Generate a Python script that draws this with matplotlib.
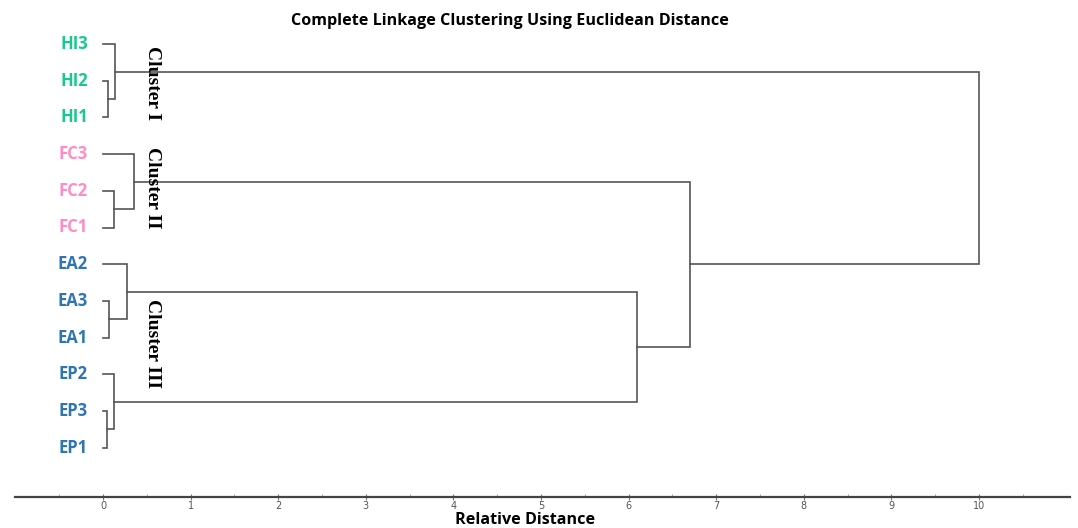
import matplotlib
matplotlib.use("Agg")
import matplotlib.pyplot as plt

# ---- data ----
leaf_labels = ["HI3", "HI2", "HI1", "FC3", "FC2", "FC1",
               "EA2", "EA3", "EA1", "EP2", "EP3", "EP1"]
leaf_groups = ["HI", "HI", "HI", "FC", "FC", "FC",
               "EA", "EA", "EA", "EP", "EP", "EP"]
# merges: (left node, right node, height); leaves are 0..11, new nodes 12..
merge_left = [1, 4, 7, 10, 0, 3, 6, 9, 18, 17, 16]
merge_right = [2, 5, 8, 11, 12, 13, 14, 15, 19, 20, 21]
merge_height = [0.06, 0.12, 0.07, 0.05, 0.14, 0.35, 0.27, 0.13, 6.10, 6.70, 10.0]
cluster_names = ["Cluster I", "Cluster II", "Cluster III"]
x_ticks = list(range(0, 11))

group_colors = {"HI": "#19C88E", "FC": "#FF8CC3", "EA": "#2E75B6", "EP": "#2E75B6"}

fig = plt.figure(figsize=(10.78, 5.28), dpi=100)
W, H = 1078, 528
x0_px, unit_px = 103.0, 87.6
leaf0_px, leaf_step_px = 44.0, 36.7
axis_px = 497.0
left_px, right_px, top_px = 15.0, 1070.0, 30.0
xmin = (left_px - x0_px) / unit_px
xmax = (right_px - x0_px) / unit_px
ymax = (axis_px - leaf0_px) / leaf_step_px
ymin = (top_px - leaf0_px) / leaf_step_px
ax = fig.add_axes([left_px / W, 1 - axis_px / H, (right_px - left_px) / W,
                   (axis_px - top_px) / H])
ax.set_xlim(xmin, xmax)
ax.set_ylim(ymax, ymin)

# dendrogram
pos = {i: (0.0, float(i)) for i in range(len(leaf_labels))}
lc = "#555555"
for k, (a, b, h) in enumerate(zip(merge_left, merge_right, merge_height)):
    xa, ya = pos[a]
    xb, yb = pos[b]
    ax.plot([xa, h, h, xb], [ya, ya, yb, yb], color=lc, lw=1.2,
            solid_joinstyle="miter")
    pos[len(leaf_labels) + k] = (h, (ya + yb) / 2)

# leaf labels
for i, (lab, g) in enumerate(zip(leaf_labels, leaf_groups)):
    ax.text(xmin + (88 - left_px) / unit_px, i, lab, ha="right", va="center",
            color=group_colors[g], fontsize=12, fontweight="bold",
            family="Open Sans")

# cluster labels
cl_pos = [(45 + 120) / 2, (148 + 228) / 2, (298 + 388) / 2]
for name, py in zip(cluster_names, cl_pos):
    ax.text((152 - x0_px) / unit_px, (py - leaf0_px) / leaf_step_px, name,
            rotation=270, ha="center", va="center", fontsize=14,
            fontweight="bold", family="Liberation Serif", color="black")

# axes styling
for s in ["top", "right", "left"]:
    ax.spines[s].set_visible(False)
ax.spines["bottom"].set_color("#444444")
ax.spines["bottom"].set_linewidth(1.6)
ax.set_yticks([])
ax.set_xticks(x_ticks)
ax.set_xticks([t - 0.5 for t in x_ticks] + [10.5], minor=True)
ax.tick_params(axis="x", which="major", direction="inout", length=4, width=0.8,
               color="#777777", labelsize=7, labelcolor="#555555", pad=1)
ax.tick_params(axis="x", which="minor", direction="in", length=2, width=0.6,
               color="#999999")

fig.text(510 / W, 1 - 21 / H, "Complete Linkage Clustering Using Euclidean Distance",
         ha="center", va="center", fontsize=11.6, fontweight="bold",
         family="Open Sans")
fig.text(525 / W, 1 - 520 / H, "Relative Distance", ha="center", va="center",
         fontsize=11.6, fontweight="bold", family="Open Sans")

fig.savefig("out.png", dpi=100)
